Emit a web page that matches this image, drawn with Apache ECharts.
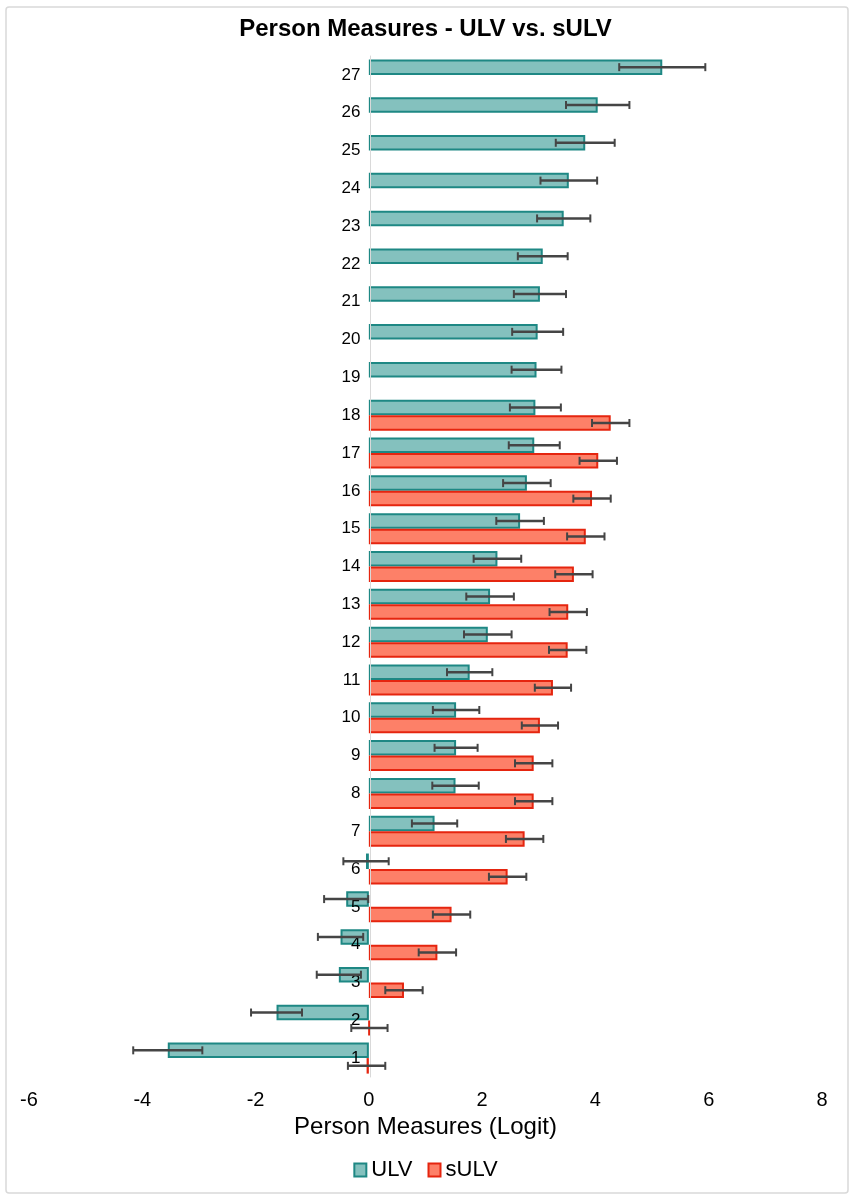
<!DOCTYPE html>
<html>
<head>
<meta charset="utf-8">
<script src="https://cdn.jsdelivr.net/npm/echarts@6/dist/echarts.min.js"></script>
<style>
html,body{margin:0;padding:0;background:#fff;}
#main{width:851px;height:1200px;}
</style>
</head>
<body>
<div id="main"></div>
<script>
const categories = ['1','2','3','4','5','6','7','8','9','10','11','12','13','14','15','16','17','18','19','20','21','22','23','24','25','26','27'];
const ulv = [-3.55,-1.63,-0.53,-0.50,-0.40,-0.05,1.16,1.53,1.54,1.54,1.78,2.10,2.14,2.27,2.67,2.79,2.92,2.94,2.96,2.98,3.02,3.07,3.44,3.53,3.82,4.04,5.18];
const ulvErr = [0.61,0.45,0.39,0.40,0.39,0.40,0.40,0.41,0.38,0.41,0.40,0.42,0.42,0.42,0.42,0.42,0.45,0.45,0.44,0.45,0.46,0.44,0.47,0.50,0.52,0.56,0.76];
const sulv = [-0.04,0.01,0.62,1.21,1.46,2.45,2.75,2.91,2.91,3.02,3.25,3.51,3.52,3.62,3.83,3.94,4.05,4.27,null,null,null,null,null,null,null,null,null];
const sulvErr = [0.33,0.32,0.33,0.33,0.33,0.33,0.33,0.33,0.33,0.32,0.32,0.33,0.33,0.33,0.33,0.33,0.33,0.33,null,null,null,null,null,null,null,null,null];
const xTicks = [-6,-4,-2,0,2,4,6,8];

const FONT = "'Liberation Sans', Arial, Helvetica, sans-serif";
const CAT_GAP = 0.18;
const half = (1 - CAT_GAP) / 2;
const GRID_LEFT = 29;

function errData(vals, errs) {
  const out = [];
  vals.forEach((v, i) => {
    if (v !== null && errs[i] !== null) out.push([v - errs[i], v + errs[i], i]);
  });
  return out;
}

function errRender(offsetFrac) {
  return function (params, api) {
    const lo = api.value(0), hi = api.value(1), cat = api.value(2);
    const p1 = api.coord([lo, cat]);
    const p2 = api.coord([hi, cat]);
    const band = api.size([0, 1])[1];
    const y = p1[1] + offsetFrac * band;
    const cap = 4;
    return {
      type: 'group',
      children: [
        { type: 'line', shape: { x1: p1[0], y1: y, x2: p2[0], y2: y }, style: { stroke: '#454545', lineWidth: 2.5 } },
        { type: 'line', shape: { x1: p1[0], y1: y - cap, x2: p1[0], y2: y + cap }, style: { stroke: '#454545', lineWidth: 2 } },
        { type: 'line', shape: { x1: p2[0], y1: y - cap, x2: p2[0], y2: y + cap }, style: { stroke: '#454545', lineWidth: 2 } }
      ]
    };
  };
}

const chart = echarts.init(document.getElementById('main'));
chart.setOption({
  animation: false,
  backgroundColor: '#ffffff',
  title: {
    text: 'Person Measures - ULV vs. sULV',
    left: 'center',
    top: 12,
    textStyle: { fontFamily: FONT, fontSize: 24, fontWeight: 'bold', color: '#000' }
  },
  graphic: [{
    type: 'rect',
    shape: { x: 6, y: 7, width: 842, height: 1186, r: 3 },
    style: { fill: 'none', stroke: '#d9d9d9', lineWidth: 1.5 },
    silent: true,
    z: -1
  }],
  legend: {
    top: 1154,
    left: 'center',
    itemWidth: 12,
    itemHeight: 13,
    itemGap: 15,
    icon: 'rect',
    data: ['ULV', 'sULV'],
    textStyle: { fontFamily: FONT, fontSize: 22, color: '#000' }
  },
  grid: { left: GRID_LEFT, right: 29, top: 56, bottom: 123, containLabel: false },
  xAxis: {
    type: 'value',
    min: -6,
    max: 8,
    interval: 2,
    splitLine: { show: false },
    axisLine: { show: false },
    axisTick: { show: false },
    axisLabel: {
      fontFamily: FONT, fontSize: 20, color: '#000', margin: 13,
      formatter: v => xTicks.includes(v) ? String(v) : ''
    },
    name: 'Person Measures (Logit)',
    nameLocation: 'middle',
    nameGap: 38,
    nameTextStyle: { fontFamily: FONT, fontSize: 24, color: '#000', verticalAlign: 'top' }
  },
  yAxis: {
    type: 'category',
    data: categories,
    z: 5,
    offset: 0,
    axisLine: { show: true, onZero: false, lineStyle: { color: '#d9d9d9', width: 1 } },
    axisTick: { show: false },
    axisLabel: { fontFamily: FONT, fontSize: 17, color: '#000', margin: 10 },
    splitLine: { show: false }
  },
  series: [
    {
      name: 'ULV',
      type: 'bar',
      data: ulv,
      barGap: '0%',
      barCategoryGap: (CAT_GAP * 100) + '%',
      itemStyle: { color: '#84c1be', borderColor: '#1e8884', borderWidth: 2 },
      z: 2
    },
    {
      name: 'sULV',
      type: 'bar',
      data: sulv,
      barGap: '0%',
      barCategoryGap: (CAT_GAP * 100) + '%',
      itemStyle: { color: '#fd8068', borderColor: '#e5250f', borderWidth: 2 },
      z: 2
    },
    {
      name: 'ULV err',
      type: 'custom',
      data: errData(ulv, ulvErr),
      encode: { x: [0, 1], y: 2 },
      renderItem: errRender(-half / 2),
      z: 10,
      silent: true
    },
    {
      name: 'sULV err',
      type: 'custom',
      data: errData(sulv, sulvErr),
      encode: { x: [0, 1], y: 2 },
      renderItem: errRender(half / 2),
      z: 10,
      silent: true
    }
  ]
});
// place the category axis at x = 0 of the value axis
const zeroPx = chart.convertToPixel({ xAxisIndex: 0 }, 0);
chart.setOption({ yAxis: { offset: -(zeroPx - GRID_LEFT) } });
</script>
</body>
</html>
